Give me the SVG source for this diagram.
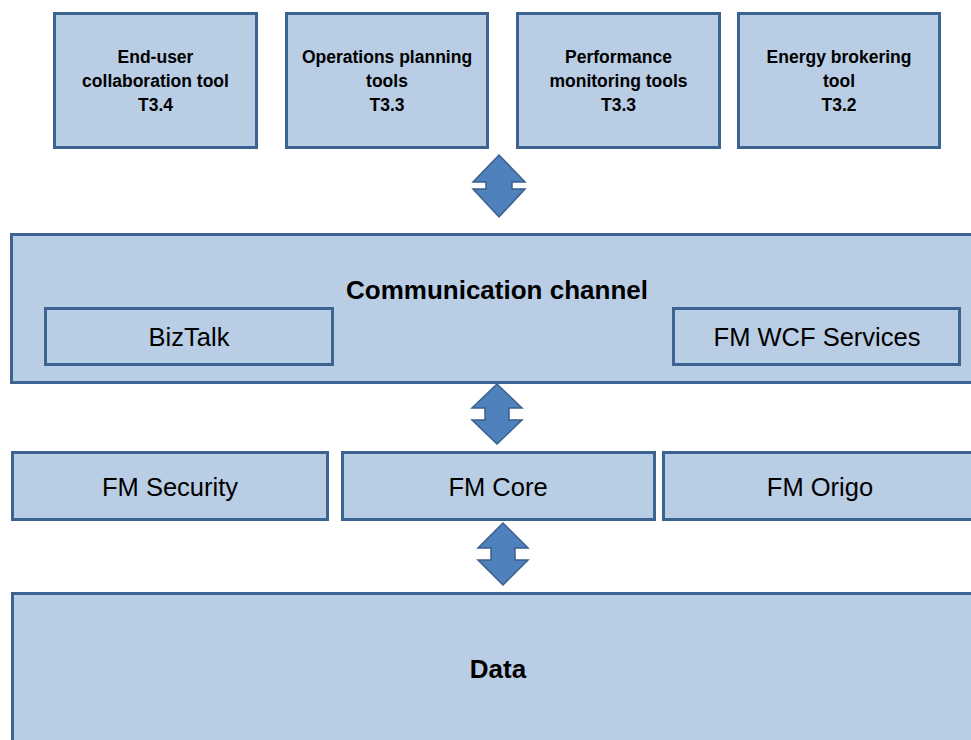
<svg xmlns="http://www.w3.org/2000/svg" width="971" height="740" viewBox="0 0 971 740">
<style>
.box{fill:#B9CDE5;stroke:#3D6391;stroke-width:3}
.arr{fill:#4F81BD;stroke:#3A5F8C;stroke-width:1.5;stroke-linejoin:miter}
.tb{font-family:"Liberation Sans",Arial,sans-serif;font-weight:bold;font-size:17.5px;fill:#000;text-anchor:middle}
.big{font-family:"Liberation Sans",Arial,sans-serif;font-weight:bold;font-size:26px;fill:#000;text-anchor:middle}
.reg{font-family:"Liberation Sans",Arial,sans-serif;font-size:25.5px;fill:#000;text-anchor:middle}
</style>
<rect width="971" height="740" fill="#fff"/>
<g id="endUser">
<rect class="box" x="54.5" y="13.5" width="202" height="134"/>
<text class="tb" x="155.5" y="63">End-user</text>
<text class="tb" x="155.5" y="87">collaboration tool</text>
<text class="tb" x="155.5" y="111">T3.4</text>
</g>
<g id="opsPlanning">
<rect class="box" x="286.5" y="13.5" width="201" height="134"/>
<text class="tb" x="387" y="63">Operations planning</text>
<text class="tb" x="387" y="87">tools</text>
<text class="tb" x="387" y="111">T3.3</text>
</g>
<g id="perfMonitoring">
<rect class="box" x="517.5" y="13.5" width="202" height="134"/>
<text class="tb" x="618.5" y="63">Performance</text>
<text class="tb" x="618.5" y="87">monitoring tools</text>
<text class="tb" x="618.5" y="111">T3.3</text>
</g>
<g id="energyBrokering">
<rect class="box" x="738.5" y="13.5" width="201" height="134"/>
<text class="tb" x="839" y="63">Energy brokering</text>
<text class="tb" x="839" y="87">tool</text>
<text class="tb" x="839" y="111">T3.2</text>
</g>
<g id="commChannel">
<rect class="box" x="11.5" y="234.5" width="975" height="148"/>
<text class="big" x="497" y="299">Communication channel</text>
</g>
<g id="bizTalk">
<rect class="box" x="45.5" y="308.5" width="287" height="56"/>
<text class="reg" x="189" y="346">BizTalk</text>
</g>
<g id="fmWcf">
<rect class="box" x="673.5" y="308.5" width="286" height="56"/>
<text class="reg" x="817" y="346">FM WCF Services</text>
</g>
<g id="fmSecurity">
<rect class="box" x="12.5" y="452.5" width="315" height="67"/>
<text class="reg" x="170" y="496">FM Security</text>
</g>
<g id="fmCore">
<rect class="box" x="342.5" y="452.5" width="312" height="67"/>
<text class="reg" x="498" y="496">FM Core</text>
</g>
<g id="fmOrigo">
<rect class="box" x="663.5" y="452.5" width="320" height="67"/>
<text class="reg" x="820" y="496">FM Origo</text>
</g>
<g id="data">
<rect class="box" x="12.5" y="593.5" width="975" height="160"/>
<text class="big" x="498" y="678">Data</text>
</g>
<g id="connectors">
<path class="arr" d="M499,155 L525,182 L512,182 L512,189 L525,189 L499,217 L473,189 L486,189 L486,182 L473,182 Z"/>
<path class="arr" d="M497,384 L522,408 L509,408 L509,420 L522,420 L497,444 L472,420 L485,420 L485,408 L472,408 Z"/>
<path class="arr" d="M503,523 L528,548 L515,548 L515,560 L528,560 L503,585 L478,560 L491,560 L491,548 L478,548 Z"/>
</g>
</svg>
